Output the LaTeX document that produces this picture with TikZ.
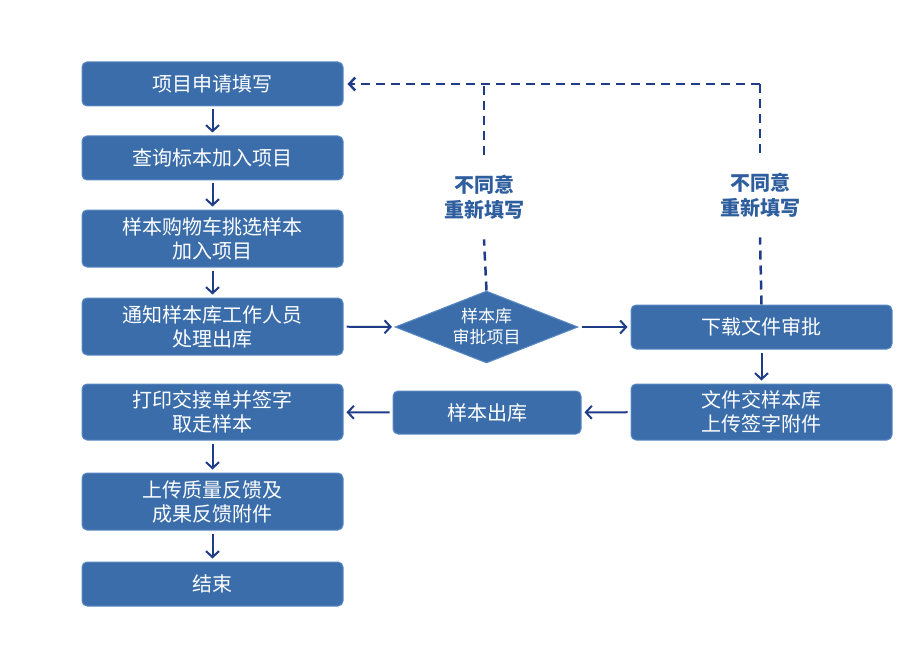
\documentclass[tikz,border=0pt]{standalone}
\usepackage{fontspec}
\setmainfont{Noto Sans CJK SC}
\usetikzlibrary{arrows.meta,shapes.geometric}
\definecolor{boxblue}{HTML}{3A6DAA}
\definecolor{boxedge}{HTML}{5A8AC4}
\definecolor{linkblue}{HTML}{1F3C88}
\definecolor{noteblue}{HTML}{2E5E9E}
\tikzset{
    stepbox/.style={rectangle,rounded corners=5pt,fill=boxblue,draw=boxedge,line width=1pt,
        text=white,minimum width=261pt,align=center,font=\fontsize{20}{24}\selectfont},
    checkbox/.style={diamond,aspect=2.5,inner sep=0pt,fill=boxblue,draw=boxedge,line width=1pt,
        text=white,minimum width=183pt,minimum height=72pt,align=center,font=\fontsize{17}{21}\selectfont},
    flow/.style={draw=linkblue,line width=2pt,-{Straight Barb[length=6pt,width=13pt]},shorten >=3pt,shorten <=3pt},
    back/.style={draw=linkblue,line width=2.5pt,dash pattern=on 9pt off 6pt},
    note/.style={text=noteblue,font=\bfseries\fontsize{20}{25}\selectfont,align=center,inner xsep=2pt,inner ysep=20pt}
}
\begin{document}
\begin{tikzpicture}[x=1pt,y=-1pt]
    \useasboundingbox (0,0) rectangle (920,663);
    % left column
    \node[stepbox,minimum height=44pt] (fill) at (212.5,84) {项目申请填写};
    \node[stepbox,minimum height=44pt] (query) at (212.5,158) {查询标本加入项目};
    \node[stepbox,minimum height=57pt] (cart) at (212.5,238.5) {样本购物车挑选样本\\加入项目};
    \node[stepbox,minimum height=57pt] (notify) at (212.5,326.5) {通知样本库工作人员\\处理出库};
    \node[stepbox,minimum height=56pt] (print) at (212.5,412) {打印交接单并签字\\取走样本};
    \node[stepbox,minimum height=57pt] (upload) at (212.5,501.5) {上传质量反馈及\\成果反馈附件};
    \node[stepbox,minimum height=44pt] (finish) at (212.5,584) {结束};
    % middle and right
    \node[checkbox] (check) at (486.5,327) {样本库\\审批项目};
    \node[stepbox,minimum height=44pt] (down) at (761.5,327) {下载文件审批};
    \node[stepbox,minimum height=56pt] (hand) at (761.5,412) {文件交样本库\\上传签字附件};
    \node[stepbox,minimum width=188pt,minimum height=43pt] (out) at (487,412.5) {样本出库};
    % notes
    \node[note] (noteA) at (484,197) {不同意\\重新填写};
    \node[note] (noteB) at (760,195) {不同意\\重新填写};
    \coordinate (turnA) at (484,84);
    \coordinate (turnB) at (760,84);
    % arrows
    \draw[flow] (fill) -- (query);
    \draw[flow] (query) -- (cart);
    \draw[flow] (cart) -- (notify);
    \draw[flow] (notify) -- (check);
    \draw[flow] (check) -- (down);
    \draw[flow] (down) -- (hand);
    \draw[flow] (hand) -- (out);
    \draw[flow] (out) -- (print);
    \draw[flow] (print) -- (upload);
    \draw[flow] (upload) -- (finish);
    % back loops
    \draw[back] (check.north) -- (noteA.south);
    \draw[back] (noteA.north) -- (turnA);
    \draw[back] (down.north) -- (noteB.south);
    \draw[back] (noteB.north) -- (turnB);
    \draw[back,-{Straight Barb[length=6pt,width=13pt]},shorten >=4pt] (turnB) -- (fill.east);
\end{tikzpicture}
\end{document}
